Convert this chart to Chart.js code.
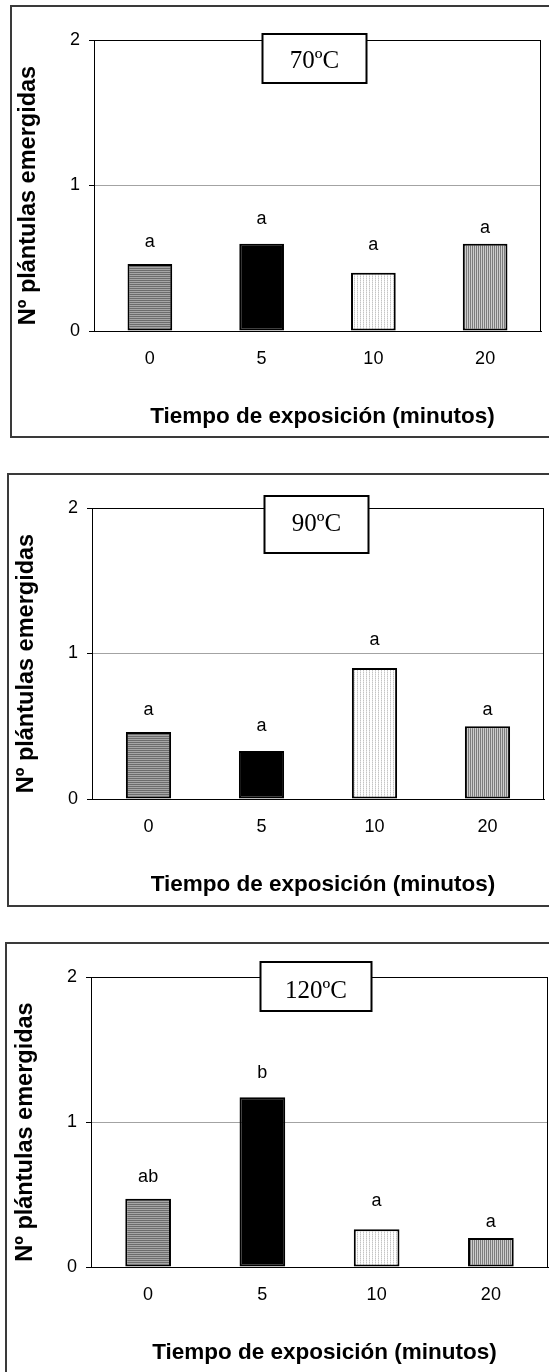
<!DOCTYPE html>
<html>
<head>
<meta charset="utf-8">
<script src="https://cdn.jsdelivr.net/npm/chart.js@4.4.1/dist/chart.umd.min.js"></script>
<style>
  html, body { margin: 0; padding: 0; background: #fff; }
  body { width: 549px; height: 1372px; position: relative; overflow: hidden; }
  .frame { position: absolute; border: 2px solid #3a3a3a; box-sizing: border-box; }
  canvas { position: absolute; left: 0; }
</style>
</head>
<body>
<div class="frame" style="left:10px;top:5px;width:560px;height:433px"></div>
<div class="frame" style="left:7px;top:473px;width:560px;height:434px"></div>
<div class="frame" style="left:5px;top:942px;width:560px;height:500px"></div>

<canvas id="chart70" width="549" height="460" style="top:0px"></canvas>
<canvas id="chart90" width="549" height="470" style="top:460px"></canvas>
<canvas id="chart120" width="549" height="442" style="top:930px"></canvas>

<script>
// Exposure time (minutes) on the x axis
const categories = ['0', '5', '10', '20'];

// Mean number of emerged seedlings per treatment temperature
const emergidas70  = [0.46, 0.60, 0.40, 0.60];
const emergidas90  = [0.46, 0.33, 0.90, 0.50];
const emergidas120 = [0.47, 1.17, 0.26, 0.20];

// Significance letters above each bar
const letras70  = ['a', 'a', 'a', 'a'];
const letras90  = ['a', 'a', 'a', 'a'];
const letras120 = ['ab', 'b', 'a', 'a'];

const temperaturas = ['70ºC', '90ºC', '120ºC'];
const yTickValues = [0, 1, 2];

const xTitle = 'Tiempo de exposición (minutos)';
const yTitle = 'Nº plántulas emergidas';

const SANS = "'Liberation Sans', Arial, Helvetica, sans-serif";
const SERIF = "'Liberation Serif', 'Times New Roman', serif";

// Fill patterns for the four exposure times
function makeFills(ctx) {
  function tile(w, h, paint) {
    const c = document.createElement('canvas');
    c.width = w; c.height = h;
    const g = c.getContext('2d');
    paint(g);
    return ctx.createPattern(c, 'repeat');
  }
  const hStripes = tile(1, 2, g => {
    g.fillStyle = '#6c6c6c'; g.fillRect(0, 0, 1, 1);
    g.fillStyle = '#a6a6a6'; g.fillRect(0, 1, 1, 1);
  });
  const lightDots = tile(3, 2, g => {
    g.fillStyle = '#ffffff'; g.fillRect(0, 0, 3, 2);
    g.fillStyle = '#c4c4c4'; g.fillRect(0, 0, 1, 1);
    g.fillStyle = '#e2e2e2'; g.fillRect(0, 1, 1, 1);
  });
  const vStripes = tile(2, 1, g => {
    g.fillStyle = '#7c7c7c'; g.fillRect(0, 0, 1, 1);
    g.fillStyle = '#cdcdcd'; g.fillRect(1, 0, 1, 1);
  });
  return [hStripes, '#000000', lightDots, vStripes];
}

// Plot frame, letters, title box and axis titles
const panelDecor = {
  id: 'panelDecor',
  beforeDatasetsDraw(chart) {
    const { ctx, chartArea: a } = chart;
    ctx.save();
    ctx.strokeStyle = '#000';
    ctx.lineWidth = 1;
    const l = Math.round(a.left) + 0.5, t = Math.round(a.top) + 0.5;
    const r = Math.round(a.right) - 0.5, b = Math.round(a.bottom) + 0.5;
    ctx.strokeRect(l, t, r - l, b - t);
    ctx.restore();
  },
  afterDatasetsDraw(chart, args, opts) {
    const { ctx } = chart;
    const meta = chart.getDatasetMeta(0);
    ctx.save();
    ctx.fillStyle = '#000';
    ctx.font = '18px ' + SANS;
    ctx.textAlign = 'center';
    ctx.textBaseline = 'middle';
    meta.data.forEach((bar, i) => {
      ctx.fillText(opts.letters[i], bar.x, bar.y - opts.letterGap[i]);
    });
    ctx.restore();
  },
  afterDraw(chart, args, opts) {
    const { ctx, chartArea: a } = chart;
    const cx = (a.left + a.right) / 2;
    ctx.save();
    // temperature box
    const bx = cx + opts.box.dx - opts.box.w / 2;
    const by = a.top + opts.box.dy;
    ctx.fillStyle = '#fff';
    ctx.fillRect(bx, by, opts.box.w, opts.box.h);
    ctx.strokeStyle = '#000';
    ctx.lineWidth = 2;
    ctx.strokeRect(bx, by, opts.box.w, opts.box.h);
    ctx.fillStyle = '#000';
    ctx.font = '25px ' + SERIF;
    ctx.textAlign = 'center';
    ctx.textBaseline = 'middle';
    ctx.fillText(opts.title, cx + opts.box.dx, a.top + opts.box.textDy);

    // x axis title
    ctx.font = 'bold 22.5px ' + SANS;
    ctx.fillText(xTitle, cx + 5, a.bottom + 86);

    // y axis title
    ctx.translate(a.left - 65, (a.top + a.bottom) / 2 + 10);
    ctx.rotate(-Math.PI / 2);
    ctx.font = 'bold 23.5px ' + SANS;
    ctx.fillText(yTitle, 0, 0);
    ctx.restore();
  }
};

function buildPanel(id, values, letters, title, layout) {
  const canvas = document.getElementById(id);
  const ctx = canvas.getContext('2d');
  const canvasTop = parseFloat(canvas.style.top);
  const plotTop = layout.top - canvasTop;
  const xHeight = canvas.height - (layout.bottom - canvasTop);

  return new Chart(ctx, {
    type: 'bar',
    data: {
      labels: categories,
      datasets: [{
        data: values,
        backgroundColor: makeFills(ctx),
        borderColor: '#000',
        borderWidth: 2,
        borderSkipped: false,
        categoryPercentage: 1.0,
        barPercentage: 0.4
      }]
    },
    options: {
      responsive: false,
      devicePixelRatio: 1,
      animation: false,
      layout: { padding: { left: 0, right: canvas.width - layout.right, top: plotTop, bottom: 0 } },
      plugins: {
        legend: { display: false },
        tooltip: { enabled: false },
        panelDecor: {
          letters: letters,
          letterGap: [22, 24.5, 28, 16],
          title: title,
          box: layout.box
        }
      },
      scales: {
        x: {
          grid: { display: false, drawTicks: false },
          border: { display: true, color: '#000', width: 1 },
          ticks: { color: '#000', font: { family: SANS, size: 18 }, padding: 17 },
          afterFit: s => { s.height = xHeight; }
        },
        y: {
          min: 0,
          max: 2,
          afterBuildTicks: s => { s.ticks = yTickValues.map(v => ({ value: v })); },
          grid: {
            color: c => (c.tick && c.tick.value === 1) ? '#a3a3a3' : 'rgba(0,0,0,0)',
            tickColor: '#000',
            tickLength: 5,
            drawTicks: true,
            lineWidth: 1
          },
          border: { display: true, color: '#000', width: 1 },
          ticks: { color: '#000', font: { family: SANS, size: 18 }, padding: 9 },
          afterFit: s => { s.width = layout.left; }
        }
      }
    },
    plugins: [panelDecor]
  });
}

buildPanel('chart70', emergidas70, letras70, temperaturas[0], {
  left: 94, right: 541, top: 40, bottom: 331,
  box: { dx: -3, dy: -6, w: 104, h: 49, textDy: 21.5 }
});
buildPanel('chart90', emergidas90, letras90, temperaturas[1], {
  left: 92, right: 544, top: 508, bottom: 799,
  box: { dx: -1.5, dy: -12, w: 104, h: 57, textDy: 16 }
});
buildPanel('chart120', emergidas120, letras120, temperaturas[2], {
  left: 91, right: 548, top: 977, bottom: 1267,
  box: { dx: -3.5, dy: -15, w: 111, h: 49, textDy: 14.5 }
});
</script>
</body>
</html>
